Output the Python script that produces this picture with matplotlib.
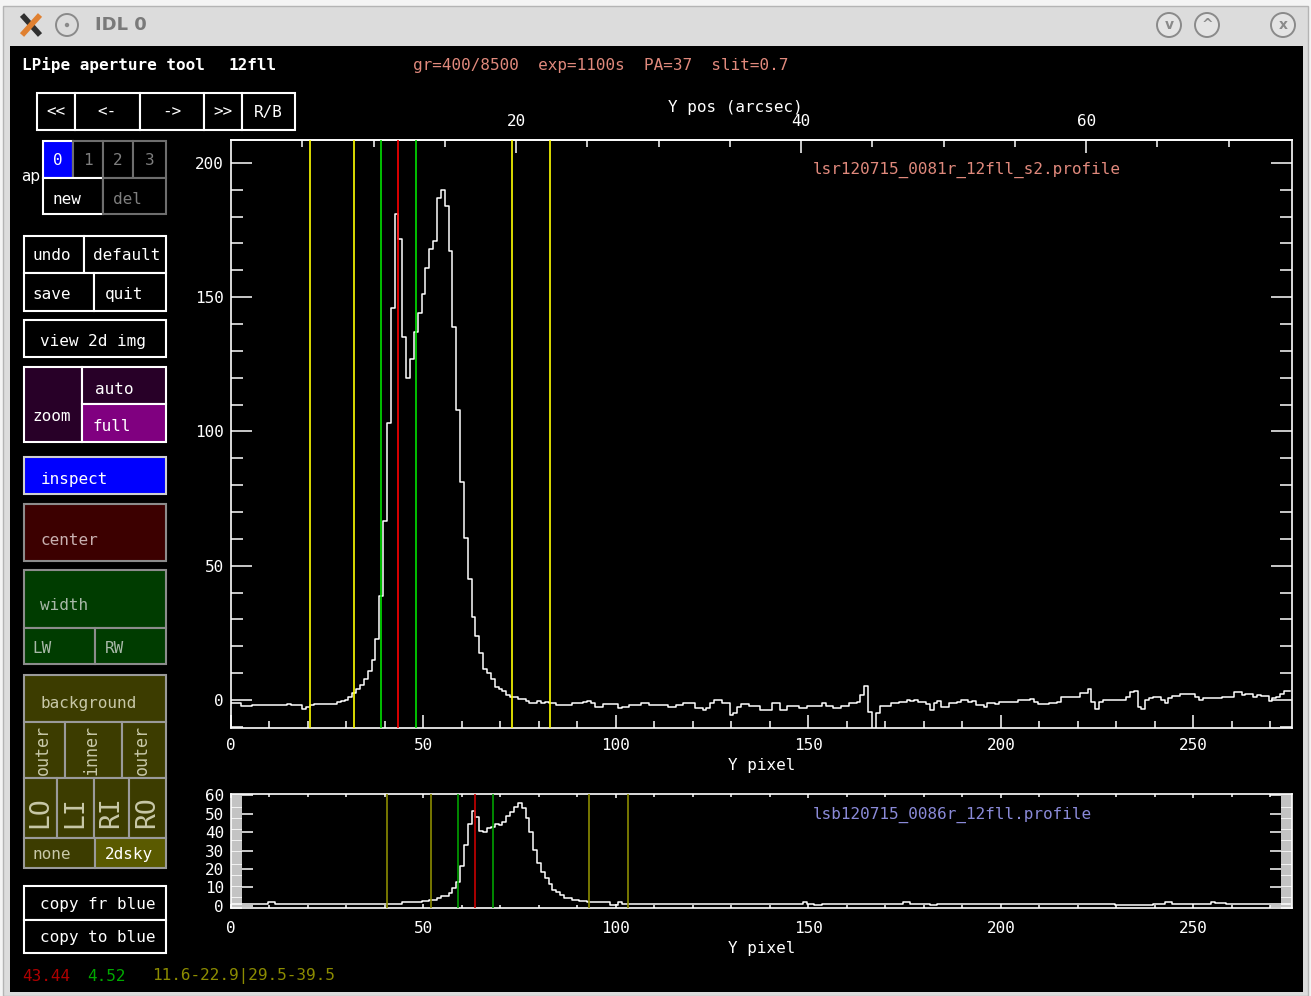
import matplotlib
matplotlib.use("Agg")
import matplotlib.pyplot as plt
from matplotlib.patches import Rectangle, Circle
from matplotlib.ticker import MultipleLocator, FixedLocator
import numpy as np

plt.rcParams['font.family'] = ['DejaVu Sans Mono', 'DejaVu Sans']

# red side spatial profile, one value per Y pixel (0..275)
red_profile = [
    -1.0, -1.0, -1.0, -2.2, -2.2, -2.2, -1.9, -1.9, -1.9, -1.9,
    -1.9, -1.9, -1.9, -1.9, -1.9, -1.5, -2.0, -2.0, -2.0, -3.5,
    -2.5, -2.0, -1.5, -1.5, -1.5, -1.5, -1.5, -1.5, -0.8, -0.3,
    0.2, 1.2, 2.7, 4.0, 5.6, 7.7, 10.9, 14.9, 22.8, 38.7,
    66.7, 103.3, 146, 181, 171.5, 135, 120, 127, 137, 144,
    151, 161, 168, 171, 187, 190, 184, 167, 139, 108,
    81, 60.5, 45, 31, 24, 17.6, 11.4, 10, 8, 5,
    4, 3.5, 2, 1, 1, 0.5, 0.5, -0.2, -1.0, -1.0,
    -0.5, -1.0, -0.7, -1.2, -1.2, -1.9, -1.9, -1.9, -1.9, -1.2,
    -1.2, -1.2, -0.6, -0.2, -1.2, -2.5, -2.5, -1.6, -1.6, -1.6,
    -1.6, -3.1, -2.5, -2.5, -1.9, -1.9, -1.9, -1.2, -1.2, -1.9,
    -1.9, -1.9, -1.9, -1.9, -2.5, -2.5, -1.9, -1.9, -1.2, -1.2,
    -1.2, -3.1, -3.1, -3.7, -3.1, -1.0, 0.0, 0.0, -1.2, -1.2,
    -5.6, -5.0, -2.5, -1.5, -1.5, -2.2, -2.2, -2.2, -3.7, -3.7,
    -3.7, -1.2, -1.2, -3.7, -3.7, -2.1, -2.1, -2.1, -3.1, -3.1,
    -2.1, -2.1, -2.1, -2.1, -1.2, -2.1, -2.1, -3.1, -3.1, -2.2,
    -2.2, -1.0, -1.0, -0.6, 1.9, 5.3, -4.6, -15.0, -5.0, -2.1,
    -2.1, -2.1, -1.2, -1.2, -0.6, -0.6, 0.2, -0.2, 0.2, -0.6,
    -0.6, -1.6, -3.7, -1.2, -0.2, -2.5, -2.5, -1.2, -1.2, -0.6,
    0.2, 0.2, -0.6, -0.2, -1.9, -1.9, -2.5, -1.2, -1.2, -1.6,
    -0.9, -0.9, -0.9, -0.9, -0.9, 0.0, 0.0, 0.0, 0.4, -0.9,
    -1.6, -1.5, -1.5, -1.0, -1.0, -0.6, 1.0, 1.0, 1.0, 1.0,
    1.0, 2.7, 2.7, 4.1, -0.6, -3.3, -0.6, 0.0, 0.0, 0.0,
    0.2, 0.2, 0.2, 1.2, 3.1, 3.5, -2.5, -3.3, 0.0, 0.6,
    1.2, 1.2, 0.0, -1.0, 0.6, 1.5, 1.5, 2.1, 2.1, 2.1,
    2.1, 1.2, 0.2, 0.6, 0.9, 0.9, 0.6, 0.6, 1.2, 1.2,
    1.2, 2.9, 2.9, 1.9, 2.1, 2.1, 1.2, 1.9, 1.6, 1.6,
    -0.2, 0.6, 1.2, 2.1, 3.5, 3.5,
]

# blue side profile, same pixel grid
blue_profile = [
    0.9, 0.9, 0.9, 0.9, 0.9, 0.9, 0.9, 0.9, 0.9, 0.9,
    2.0, 2.0, 0.9, 0.9, 0.9, 0.9, 0.9, 0.9, 0.9, 0.9,
    0.9, 0.9, 0.9, 0.9, 0.9, 0.9, 0.9, 0.9, 0.9, 0.9,
    0.9, 0.9, 0.9, 0.9, 0.9, 0.9, 0.9, 0.9, 0.9, 0.9,
    0.9, 0.9, 0.9, 0.9, 0.9, 2.0, 2.0, 2.0, 2.0, 2.0,
    2.7, 2.7, 3.3, 3.3, 4.2, 5.1, 5.4, 6.9, 9.6, 13.2,
    21.4, 32.8, 44.4, 51.6, 48.3, 40.7, 40.4, 42.2, 43.1, 44.4,
    44.0, 45.5, 48.6, 50.9, 54.0, 55.8, 53.4, 47.6, 40.4, 30.4,
    23.2, 18.3, 15.0, 11.8, 8.7, 7.4, 6.0, 4.2, 4.2, 3.1,
    3.1, 2.4, 2.4, 2.0, 2.0, 2.0, 2.0, 2.0, 2.0, 0.5,
    0.5, 2.0, 0.9, 0.9, 0.9, 0.9, 0.9, 0.9, 0.9, 0.9,
    0.9, 0.9, 0.9, 0.9, 0.9, 0.9, 0.9, 0.9, 0.9, 0.9,
    0.9, 0.9, 0.9, 0.9, 0.9, 0.9, 0.9, 0.9, 0.9, 0.9,
    0.9, 0.9, 0.9, 0.9, 0.9, 0.9, 0.9, 0.9, 0.9, 0.9,
    0.9, 0.9, 0.9, 0.9, 0.9, 0.9, 0.9, 0.9, 0.9, 2.0,
    0.9, 0.9, 0.5, 0.5, 0.9, 0.9, 0.9, 0.9, 0.9, 0.9,
    0.9, 0.9, 0.9, 0.9, 0.9, 0.9, 0.9, 0.9, 0.9, 0.9,
    0.9, 0.9, 0.9, 0.9, 0.9, 2.0, 2.0, 0.9, 0.9, 0.9,
    0.9, 0.9, 0.5, 0.5, 0.9, 0.9, 0.9, 0.9, 0.9, 0.9,
    0.9, 0.9, 0.9, 0.9, 0.9, 0.9, 0.9, 0.9, 0.9, 0.9,
    0.9, 0.9, 0.9, 0.9, 0.9, 0.9, 0.9, 0.9, 0.9, 0.9,
    0.9, 0.9, 0.9, 0.9, 0.9, 0.9, 0.9, 0.9, 0.9, 0.9,
    0.9, 0.9, 0.9, 0.9, 0.9, 0.9, 0.9, 0.9, 0.9, 0.9,
    0.4, 0.4, 0.4, 0.4, 0.4, 0.4, 0.4, 0.4, 0.4, 0.4,
    0.9, 0.9, 0.9, 2.0, 2.0, 0.9, 0.9, 0.9, 0.9, 0.9,
    0.9, 0.9, 0.9, 0.9, 0.9, 2.0, 1.3, 1.3, 1.3, 0.9,
    0.9, 0.9, 0.9, 0.9, 0.9, 0.9, 0.9, 0.9, 0.9, 0.9,
    0.9, 0.9, 0.9, 0.9, 0.9, 0.9,
]
pixels = np.arange(len(red_profile))

# aperture: center, half width, background offsets (pixels)
red_center = 43.44
blue_center = 63.5
ap_width = 4.52
bg_inner = (11.6, 29.5)
bg_outer = (22.9, 39.5)
arcsec_per_pix = 0.2701
arcsec_major = [20, 40, 60]
arcsec_minor = [5, 10, 15, 25, 30, 35, 45, 50, 55, 65, 70]

red_file = "lsr120715_0081r_12fll_s2.profile"
blue_file = "lsb120715_0086r_12fll.profile"
header = "gr=400/8500  exp=1100s  PA=37  slit=0.7"

W, H = 1311, 996
fig = plt.figure(figsize=(W / 100, H / 100), dpi=100)
fig.patch.set_facecolor('#f4f4f4')

# pixel-coordinate canvas for the window and widgets
bg = fig.add_axes([0, 0, 1, 1])
bg.axis('off')
bg.add_patch(Rectangle((3, 6), 1305, 990, facecolor='#dcdcdc', edgecolor='#b4b4b4', lw=1))
grad = np.linspace(0.97, 0.85, 40)[:, None]
bg.imshow(grad, cmap='gray', vmin=0, vmax=1, extent=(4, 1307, 46, 7), aspect='auto')
bg.add_patch(Rectangle((10, 46), 1293, 946, facecolor='black', edgecolor='none'))
bg.set_xlim(0, W)
bg.set_ylim(H, 0)

# title bar: X logo drawn as strokes, then the title and buttons
bg.plot([22, 40], [15, 35], color='#303030', lw=4, solid_capstyle='butt')
bg.plot([40, 22], [15, 35], color='#e08030', lw=4, solid_capstyle='butt')
bg.add_patch(Circle((67, 25), 11, facecolor='none', edgecolor='#8a8a8a', lw=1.4))
bg.add_patch(Circle((67, 25), 2.2, facecolor='#8a8a8a', edgecolor='none'))
bg.text(95, 25, 'IDL 0', color='#7a7a7a', fontsize=13, fontweight='bold', family='DejaVu Sans', va='center')
for cx, glyph in [(1169, 'v'), (1207, '^'), (1283, 'x')]:
    bg.add_patch(Circle((cx, 25), 12, facecolor='#e4e4e4', edgecolor='#8a8a8a', lw=1.4))
    bg.text(cx, 25, glyph, color='#8a8a8a', fontsize=10, fontweight='bold', family='DejaVu Sans', ha='center', va='center')


def box(x0, y0, x1, y1, face='black', edge='white', lw=1.5):
    bg.add_patch(Rectangle((x0, y0), x1 - x0, y1 - y0, facecolor=face, edgecolor=edge, lw=lw))


def label(x, y, s, color='white', size=11.5, ha='left', rot=0):
    bg.text(x, y, s, color=color, fontsize=size, ha=ha, va='center', rotation=rot)


bg.text(22, 65, 'LPipe aperture tool', color='white', fontsize=11.5, fontweight='bold', va='center')
bg.text(229, 65, '12fll', color='white', fontsize=11.5, fontweight='bold', va='center')
label(413, 65, header, color='#e0897c')

# navigation row
for x0, x1, s in [(37, 75, '<<'), (75, 140, '<-'), (140, 204, '->'), (204, 242, '>>'), (242, 295, 'R/B')]:
    box(x0, 93, x1, 130)
    label((x0 + x1) / 2, 112, s, ha='center')

# aperture selector
bg.text(21, 176, 'ap', color='white', fontsize=11, family='DejaVu Sans', va='center')
box(43, 141, 73, 178, face='#0000ff', edge='white')
label(58, 160, '0', ha='center')
for x0, x1, s in [(73, 103, '1'), (103, 133, '2'), (133, 166, '3')]:
    box(x0, 141, x1, 178, edge='#6e6e6e')
    label((x0 + x1) / 2, 160, s, color='#7e7e7e', ha='center')
box(43, 178, 103, 214)
label(52, 199, 'new')
box(103, 178, 166, 214, edge='#6e6e6e')
label(113, 199, 'del', color='#7e7e7e')

box(24, 236, 84, 273)
label(32, 255, 'undo')
box(84, 236, 166, 273)
label(93, 255, 'default')
box(24, 273, 94, 311)
label(32, 294, 'save')
box(94, 273, 166, 311)
label(105, 294, 'quit')
box(24, 320, 166, 357)
label(40, 341, 'view 2d img')

# zoom group
box(24, 367, 82, 442, face='#280028')
box(82, 367, 166, 404, face='#280028')
box(82, 404, 166, 442, face='#800080')
label(32, 416, 'zoom')
label(95, 389, 'auto')
label(93, 426, 'full')

box(24, 457, 166, 494, face='#0000ff', edge='#d0d0d0')
label(41, 479, 'inspect')

box(24, 504, 166, 561, face='#3c0000', edge='#8c8c8c')
label(40, 540, 'center', color='#c8b0b0')

box(24, 570, 166, 628, face='#003c00', edge='#8c8c8c')
box(24, 628, 95, 664, face='#003c00', edge='#8c8c8c')
box(95, 628, 166, 664, face='#003c00', edge='#8c8c8c')
label(40, 605, 'width', color='#a8b8a8')
label(32, 648, 'LW', color='#a8b8a8')
label(105, 648, 'RW', color='#a8b8a8')

# background group
olive, olive_edge, olive_txt = '#3c3c00', '#9a9a9a', '#c8c8a8'
box(24, 675, 166, 722, face=olive, edge=olive_edge)
label(40, 703, 'background', color=olive_txt)
for x0, x1, s in [(24, 65, 'outer'), (65, 122, 'inner'), (122, 166, 'outer')]:
    box(x0, 722, x1, 778, face=olive, edge=olive_edge)
    label((x0 + x1) / 2 - 2, 750, s, color=olive_txt, size=12, ha='center', rot=90)
for x0, x1, s in [(24, 57, 'LO'), (57, 94, 'LI'), (94, 129, 'RI'), (129, 166, 'RO')]:
    box(x0, 778, x1, 838, face=olive, edge=olive_edge)
    label((x0 + x1) / 2, 812, s, color=olive_txt, size=19, ha='center', rot=90)
box(24, 838, 95, 868, face=olive, edge=olive_edge)
box(95, 838, 166, 868, face='#5a5a00', edge=olive_edge)
label(33, 854, 'none', color=olive_txt)
label(105, 854, '2dsky')

box(24, 886, 166, 920)
label(40, 904, 'copy fr blue')
box(24, 920, 166, 953)
label(40, 937, 'copy to blue')

# status line
label(22, 976, f'{red_center:.2f}', color='#b00000')
label(87, 976, f'{ap_width:.2f}', color='#00a800')
label(152, 976, f'{bg_inner[0]}-{bg_outer[0]}|{bg_inner[1]}-{bg_outer[1]}', color='#8c8c00')


def aperture_lines(ax, c, yellow, green, red, lw):
    for x in (c - bg_outer[0], c - bg_inner[0], c + bg_inner[1], c + bg_outer[1]):
        ax.axvline(x, color=yellow, lw=lw, zorder=3)
    for x in (c - ap_width, c + ap_width):
        ax.axvline(x, color=green, lw=lw, zorder=3)
    ax.axvline(c, color=red, lw=lw, zorder=3)


def style(ax):
    ax.set_facecolor('black')
    for sp in ax.spines.values():
        sp.set_color('white')
        sp.set_linewidth(1.2)


# main (red) profile
ax = fig.add_axes([231 / W, 1 - 728 / H, (1292 - 231) / W, (728 - 140) / H])
style(ax)
ax.step(pixels, red_profile, where='mid', color='white', lw=1.1, zorder=2)
aperture_lines(ax, red_center, '#ffff00', '#00e000', '#ff0000', 1.2)
ax.set_xlim(0, 275.6)
ax.set_ylim(-10.4, 208.5)
ax.xaxis.set_major_locator(MultipleLocator(50))
ax.xaxis.set_minor_locator(MultipleLocator(10))
ax.yaxis.set_major_locator(MultipleLocator(50))
ax.yaxis.set_minor_locator(MultipleLocator(10))
ax.tick_params(axis='x', which='major', direction='in', length=9.5, width=1.1, colors='white',
               labelsize=11.5, pad=7, top=False)
ax.tick_params(axis='x', which='minor', direction='in', length=5, width=1.1, colors='white', top=False)
ax.tick_params(axis='y', which='major', direction='in', length=15, width=1.1, colors='white',
               labelsize=11.5, pad=5, right=True)
ax.tick_params(axis='y', which='minor', direction='in', length=8.5, width=1.1, colors='white', right=True)
ax.set_xlabel('Y pixel', color='white', fontsize=11.5, labelpad=4)
ax.text(0.548, 0.95, red_file, transform=ax.transAxes, color='#e0897c', fontsize=11.5, va='center')

sec = ax.secondary_xaxis('top', functions=(lambda p: p * arcsec_per_pix, lambda a: a / arcsec_per_pix))
sec.xaxis.set_major_locator(FixedLocator(arcsec_major))
sec.xaxis.set_minor_locator(FixedLocator(arcsec_minor))
sec.tick_params(which='major', direction='in', length=9.5, width=1.1, colors='white', labelsize=11.5, pad=8)
sec.tick_params(which='minor', direction='in', length=5, width=1.1, colors='white')
sec.spines['top'].set_color('white')
sec.spines['top'].set_linewidth(1.2)
label(735, 107, 'Y pos (arcsec)', ha='center')

# lower (blue) profile
ax2 = fig.add_axes([231 / W, 1 - 908 / H, (1292 - 231) / W, (908 - 794) / H])
style(ax2)
ax2.step(pixels, blue_profile, where='mid', color='white', lw=1.1, zorder=2)
aperture_lines(ax2, blue_center, '#8c8c00', '#00a000', '#c80000', 1.2)
ax2.set_xlim(0, 275.6)
ax2.set_ylim(-1.2, 60.8)
ax2.xaxis.set_major_locator(MultipleLocator(50))
ax2.xaxis.set_minor_locator(MultipleLocator(10))
ax2.yaxis.set_major_locator(MultipleLocator(10))
ax2.yaxis.set_minor_locator(MultipleLocator(1))
ax2.tick_params(axis='x', which='major', direction='in', length=3, width=1.1, colors='white',
                labelsize=11.5, pad=9, top=True)
ax2.tick_params(axis='x', which='minor', direction='in', length=2, width=1.1, colors='white', top=True)
ax2.tick_params(axis='y', which='major', direction='in', length=16, width=1.1, colors='white',
                labelsize=11.5, pad=5, right=True)
ax2.tick_params(axis='y', which='minor', direction='in', length=8, width=1.1, colors='white', right=True)
ax2.set_xlabel('Y pixel', color='white', fontsize=11.5, labelpad=4)
ax2.text(0.548, 0.82, blue_file, transform=ax2.transAxes, color='#8a8ad8', fontsize=11.5, va='center')

fig.savefig('out.png', dpi=100, facecolor=fig.get_facecolor())
